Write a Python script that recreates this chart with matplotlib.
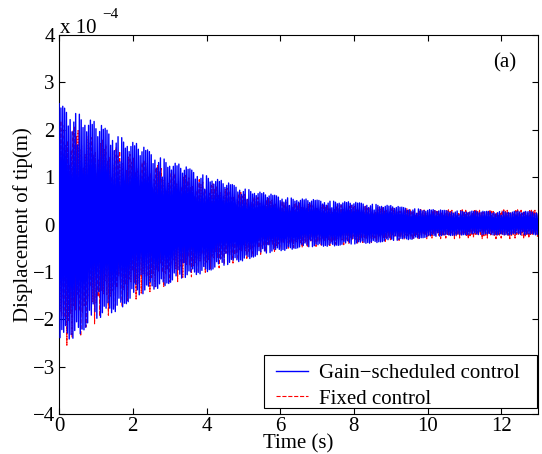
import numpy as np
import matplotlib
matplotlib.use("Agg")
import matplotlib.pyplot as plt
from matplotlib.patches import Rectangle

plt.rcParams['font.family'] = ['Liberation Serif', 'DejaVu Serif']

# Envelope knots (units of 1e-4 m)
env_t = [0, 0.5, 1, 1.5, 2, 2.5, 3, 3.5, 4, 4.5, 5, 5.5, 6, 6.5, 7, 7.5, 8,
         8.5, 9, 9.5, 10, 10.5, 11, 11.5, 12, 12.5, 13]
gain_upper = [2.55, 2.4, 2.15, 1.95, 1.75, 1.55, 1.35, 1.2, 1.05, 0.9, 0.78,
              0.68, 0.6, 0.55, 0.52, 0.5, 0.47, 0.44, 0.4, 0.35, 0.32, 0.3,
              0.29, 0.28, 0.28, 0.28, 0.27]
gain_lower = [2.55, 2.35, 2.05, 1.85, 1.6, 1.4, 1.25, 1.12, 1.0, 0.88, 0.76,
              0.64, 0.56, 0.5, 0.47, 0.45, 0.42, 0.39, 0.35, 0.32, 0.27, 0.24,
              0.22, 0.22, 0.22, 0.22, 0.22]
fixed_upper = [2.2, 2.05, 1.85, 1.65, 1.45, 1.3, 1.15, 1.02, 0.9, 0.78, 0.66,
               0.57, 0.5, 0.46, 0.44, 0.42, 0.4, 0.38, 0.35, 0.33, 0.31, 0.31,
               0.31, 0.31, 0.31, 0.31, 0.31]
fixed_lower = [2.3, 2.1, 1.8, 1.6, 1.4, 1.22, 1.1, 0.98, 0.87, 0.76, 0.64,
               0.54, 0.47, 0.43, 0.4, 0.38, 0.36, 0.33, 0.3, 0.28, 0.26, 0.26,
               0.26, 0.26, 0.26, 0.26, 0.26]
# Peak-height variation pattern seen along the trace
gain_pattern = [1.0, 0.94, 0.97, 0.88, 0.99, 0.91, 0.98, 0.86, 0.95, 0.93,
                0.84, 0.99, 0.9, 0.96, 0.8, 1.0, 0.89, 0.94, 0.97, 0.87, 0.7,
                0.93, 0.98]
fixed_pattern = [0.95, 0.8, 1.0, 0.85, 0.9, 0.7, 0.97, 0.88, 0.78, 1.15, 0.83,
                 0.92, 0.6, 0.86, 0.75, 1.1]
gain_freq = 20.0   # oscillations per second (as rendered)
fixed_freq = 21.3

x_ticks = [0, 2, 4, 6, 8, 10, 12]
y_ticks = [-4, -3, -2, -1, 0, 1, 2, 3, 4]
legend_labels = ['Gain\u2212scheduled control', 'Fixed control']


def zigzag(freq, upper, lower, pattern, t_end=13.0):
    half = 0.5 / freq
    n = int(t_end / half) + 1
    tk = np.arange(n) * half
    up = np.interp(tk, env_t, upper)
    lo = np.interp(tk, env_t, lower)
    pat = np.array([pattern[i % len(pattern)] for i in range(n)])
    sign = np.where(np.arange(n) % 2 == 0, 1.0, -1.0)
    vals = np.where(sign > 0, up, -lo) * pat
    return tk, vals * 1e-4


W, H = 542, 454
FS = 15
fig = plt.figure(figsize=(W / 100, H / 100), dpi=100)
ax = fig.add_axes([0.109, 0.088, 0.884, 0.835])

tf, vf = zigzag(fixed_freq, fixed_upper, fixed_lower, fixed_pattern)
tg, vg = zigzag(gain_freq, gain_upper, gain_lower, gain_pattern)
ax.plot(tf, vf, color='#ff0000', linestyle='--', linewidth=0.8, zorder=2)
ax.plot(tg, vg, color='#0000ff', linestyle='-', linewidth=1.0, zorder=3)

ax.set_xlim(0, 13)
ax.set_ylim(-4e-4, 4e-4)
ax.set_xticks(x_ticks)
ax.set_xticklabels([str(v) for v in x_ticks])
ax.set_yticks([v * 1e-4 for v in y_ticks])
ax.set_yticklabels([str(v).replace('-', '\u2212') for v in y_ticks])
ax.tick_params(direction='in', top=True, right=True, labelsize=FS, length=4,
               width=0.8)
ax.tick_params(axis='x', pad=2)
ax.tick_params(axis='y', pad=3)
for s in ax.spines.values():
    s.set_linewidth(0.8)

ax.set_xlabel('Time (s)', fontsize=FS, labelpad=-1)
ax.set_ylabel('Displacement of tip(m)', fontsize=FS, labelpad=0)
fig.text(60 / W, 1 - 33 / H, 'x 10', fontsize=FS, ha='left', va='baseline')
fig.text(102 / W, 1 - 18 / H, '\u22124', fontsize=11, ha='left',
         va='baseline')
ax.text(12.1, 3.42e-4, '(a)', fontsize=FS, ha='center', va='center')

# legend frame (MATLAB-style, wider padding)
frame = Rectangle((264 / W, 1 - 408 / H), 273 / W, 53 / H,
                  transform=fig.transFigure, facecolor='white',
                  edgecolor='black', linewidth=0.8, zorder=4, clip_on=False)
ax.add_patch(frame)

h1, = ax.plot([], [], color='#0000ff', linewidth=1.0)
h2, = ax.plot([], [], color='#ff0000', linestyle='--', linewidth=0.8)
leg = ax.legend([h1, h2], legend_labels,
                loc='upper left', bbox_to_anchor=(269 / W, 1 - 356 / H),
                bbox_transform=fig.transFigure, borderaxespad=0,
                fontsize=FS, frameon=False, handlelength=1.5,
                borderpad=0.35, labelspacing=0.3, handletextpad=0.55)
leg.set_zorder(5)

fig.savefig('out.png', dpi=100)
